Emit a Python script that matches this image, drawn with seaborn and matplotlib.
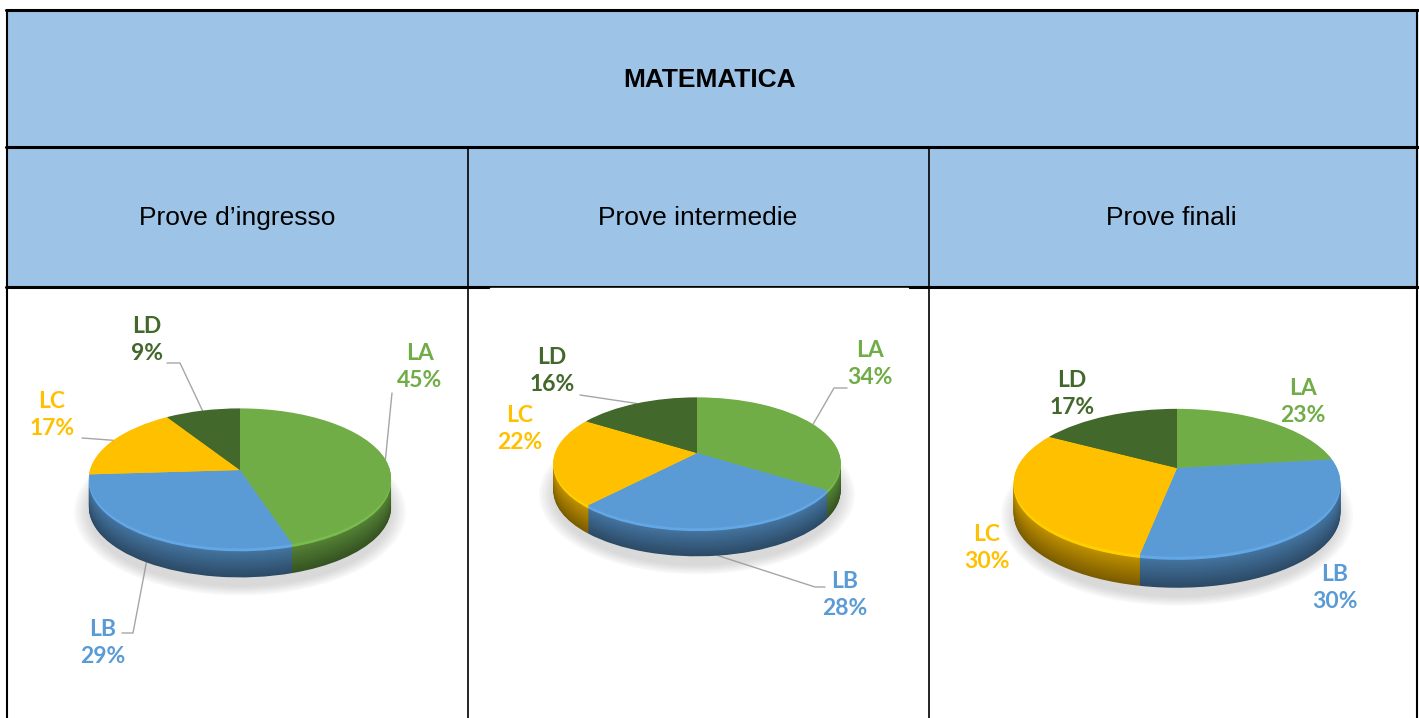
import numpy as np
import matplotlib.pyplot as plt
from matplotlib.patches import Rectangle, Ellipse, PathPatch
from matplotlib.path import Path
import seaborn as sns

# --- dati ---
title = "MATEMATICA"
phases = ["Prove d\u2019ingresso", "Prove intermedie", "Prove finali"]
levels = ["LA", "LB", "LC", "LD"]
ingresso = [45, 29, 17, 9]
intermedie = [34, 28, 22, 16]
finali = [23, 30, 30, 17]
level_colors = ["#70AD47", "#5B9BD5", "#FFC000", "#43682B"]

W, H = 1419, 718

sns.set_theme(style="white")
plt.rcParams['font.family'] = ['Liberation Sans', 'DejaVu Sans']
plt.rcParams['text.color'] = 'black'
palette = sns.color_palette(level_colors)

fig = plt.figure(figsize=(W / 100, H / 100), dpi=100)
bg = fig.add_axes([0, 0, 1, 1])
bg.set_xlim(0, W)
bg.set_ylim(H, 0)
bg.axis('off')

# --- tabella ---
bg.add_patch(Rectangle((7, 10), 1410, 277, color="#9DC3E6", zorder=0))
bg.plot([6, 1418], [10, 10], color='black', lw=2.2)
bg.plot([6, 1418], [147, 147], color='black', lw=2.2)
bg.plot([6, 1418], [287, 287], color='black', lw=2.2)
bg.plot([7, 7], [10, 718], color='black', lw=1.5)
bg.plot([1417, 1417], [10, 718], color='black', lw=1.5)
bg.plot([468, 468], [147, 718], color='black', lw=1.2)
bg.plot([929, 929], [147, 718], color='black', lw=1.2)
bg.add_patch(Rectangle((490, 288), 418, 2.5, color='white', zorder=3))

bg.text(710, 80, title, ha='center', va='center', fontsize=19, fontweight='bold')
col_centers = [237, 698, 1171]
for x, name in zip(col_centers, phases):
    bg.text(x, 218, name, ha='center', va='center', fontsize=19)

# --- torte 3D: apice (cx, cy), raggi, prospettiva, spessore in pixel ---
pies = [
    dict(values=ingresso, cx=240, cy=470, rx=150, ry=69, persp=0.12, depth=29,
         labels=[(420, 367), (103, 643), (52, 415), (147, 340)],
         leaders={0: [(392, 393)], 1: [(122, 633), (133, 633)],
                  2: [(82, 438)], 3: [(167, 363), (180, 363)]}),
    dict(values=intermedie, cx=697, cy=453, rx=142, ry=64, persp=0.15, depth=28,
         labels=[(870, 364), (845, 595), (520, 429), (552, 371)],
         leaders={0: [(847, 388), (834, 388)], 1: [(825, 587), (815, 587)],
                  3: [(580, 395)]}),
    dict(values=finali, cx=1177, cy=468, rx=160, ry=71, persp=0.2, depth=31,
         labels=[(1303, 402), (1335, 588), (987, 548), (1072, 394)],
         leaders={}),
]


def shade(c, f):
    return tuple(min(1, max(0, v * f)) for v in c)


def tilt(ax, wedges, cols, rx, ry, p, dy):
    # porta gli spicchi del cerchio unitario sul disco inclinato in prospettiva
    for w, c in zip(wedges, cols):
        path = w.get_path()
        v = path.vertices
        s = 1 / (1 + p * v[:, 1])
        nv = np.column_stack([rx * v[:, 0] * s, ry * v[:, 1] * s - dy])
        w.remove()
        ax.add_patch(PathPatch(Path(nv, path.codes), facecolor=c, lw=0))


for p in pies:
    cx, cy, rx, ry, d, k = p['cx'], p['cy'], p['rx'], p['ry'], p['depth'], p['persp']
    ax = fig.add_axes([(cx - 230) / W, 0, 460 / W, (H - 290) / H])
    vals = p['values']

    # ombra
    sc = ry / (1 - k)
    for j in range(8):
        ax.add_patch(Ellipse((0, -d - 8 - (sc - ry) / 2), 2 * (rx + 16 - j * 2),
                             (ry + sc) + 20 - j * 2.5,
                             color='#9a9a9a', alpha=0.05, lw=0, zorder=0))

    # lato
    n = 40
    for i in range(n, 0, -1):
        t = i / n
        f = 0.78 - 0.3 * t if t > 0.12 else 1.08
        cols = [shade(c, f) for c in palette]
        wedges, _ = ax.pie(vals, radius=1, startangle=90, counterclock=False)
        tilt(ax, wedges, cols, rx, ry, k, d * t)
    # faccia superiore
    wedges, _ = ax.pie(vals, radius=1, startangle=90, counterclock=False)
    angles = [np.deg2rad((w.theta1 + w.theta2) / 2) for w in wedges]
    tilt(ax, wedges, palette, rx, ry, k, 0)

    ax.set_aspect('auto')
    ax.set_xlim(-230, 230)
    ax.set_ylim(cy - H, cy - 290)
    ax.axis('off')

    # etichette
    for idx, (th, lab, val) in enumerate(zip(angles, levels, vals)):
        lx, ly = p['labels'][idx]
        bg.text(lx, ly, f"{lab}\n{val}%", ha='center', va='center', fontsize=16.5,
                fontweight='bold', color=palette[idx], family=['Lato', 'DejaVu Sans'],
                linespacing=1.3, zorder=5)
        if idx in p['leaders']:
            s = 1 / (1 + k * np.sin(th))
            px = cx + rx * np.cos(th) * s
            py = cy - ry * np.sin(th) * s
            if np.sin(th) < 0:
                py += d
            pts = p['leaders'][idx] + [(px, py)]
            xs, ys = zip(*pts)
            bg.plot(xs, ys, color='#a6a6a6', lw=1.0, zorder=4)

fig.savefig('out.png', dpi=100)
